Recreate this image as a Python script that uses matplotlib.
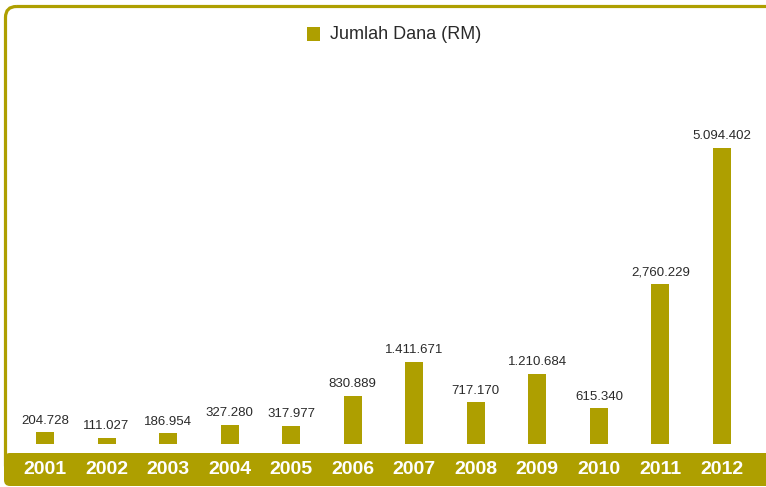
import matplotlib.pyplot as plt
import matplotlib.transforms as mtransforms
from matplotlib.patches import FancyBboxPatch

# data
years = ["2001", "2002", "2003", "2004", "2005", "2006",
         "2007", "2008", "2009", "2010", "2011", "2012"]
dana = [204728, 111027, 186954, 327280, 317977, 830889,
        1411671, 717170, 1210684, 615340, 2760229, 5094402]
dana_labels = ["204.728", "111.027", "186.954", "327.280", "317.977", "830.889",
               "1.411.671", "717.170", "1.210.684", "615.340", "2,760.229", "5.094.402"]

olive = "#ae9f00"
W, H = 766, 487

fig = plt.figure(figsize=(W / 100, H / 100), dpi=100)

# frame and bottom band, drawn in pixel space
bg = fig.add_axes([0, 0, 1, 1])
bg.set_xlim(0, W)
bg.set_ylim(H, 0)
bg.axis("off")
bg.add_patch(FancyBboxPatch((5.5, 6.5), 820, 470,
                            boxstyle="round,pad=0,rounding_size=11",
                            fill=False, edgecolor=olive, linewidth=2.3))
bg.add_patch(FancyBboxPatch((4, 453), 820, 33,
                            boxstyle="round,pad=0,rounding_size=6",
                            facecolor=olive, edgecolor="none"))

# legend
bg.add_patch(plt.Rectangle((307, 27), 13, 14, facecolor=olive, edgecolor="none"))
bg.text(330, 34.5, "Jumlah Dana (RM)", fontsize=13, color="#2a2a2a",
        family="Liberation Sans", va="center", ha="left")

# bars
ax = fig.add_axes([0, 0, 1, 1], zorder=2)
ax.patch.set_alpha(0)
ax.axis("off")
step = (722 - 45) / 11
ax.set_xlim(-45 / step, 11 + (W - 722) / step)
scale = 5094402 / 296
ax.set_ylim(-(H - 444) * scale, 444 * scale)

x = list(range(len(years)))
ax.bar(x, dana, width=18 / step, color=olive)

for i, v in enumerate(dana):
    ax.annotate(dana_labels[i], (i, v), xytext=(0, 4), textcoords="offset points",
                ha="center", va="bottom", fontsize=9.5, color="#2a2a2a",
                family="Liberation Sans")

trans = mtransforms.blended_transform_factory(ax.transData, ax.transAxes)
for i, y in enumerate(years):
    ax.text(i, 1 - 470 / H, y, transform=trans, ha="center", va="center",
            fontsize=14, fontweight="bold", color="white", family="Liberation Sans")

plt.savefig("out.png", dpi=100)
